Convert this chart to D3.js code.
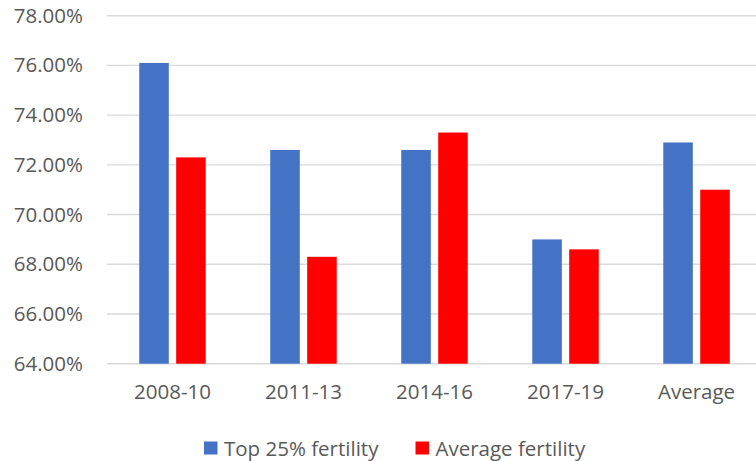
<!DOCTYPE html>
<html>
<head>
<meta charset="utf-8">
<script src="https://cdn.jsdelivr.net/npm/d3@7"></script>
<style>
  html, body { margin: 0; padding: 0; background: #fff; }
  svg { display: block; font-family: "Open Sans", sans-serif; }
</style>
</head>
<body>
<div id="chart"></div>
<script>
// --- données ---
const categories = ["2008-10", "2011-13", "2014-16", "2017-19", "Average"];
const seriesNames = ["Top 25% fertility", "Average fertility"];
const topFertility = [76.1, 72.6, 72.6, 69.0, 72.9];
const avgFertility = [72.3, 68.3, 73.3, 68.6, 71.0];
const yTicks = [64, 66, 68, 70, 72, 74, 76, 78];
const colors = ["#4472C4", "#FF0000"];

const W = 756, H = 461;
const plot = {left: 107, right: 762, top: 15.7, bottom: 363.7};
const fontSize = "20.5px";

const svg = d3.select("#chart").append("svg")
    .attr("width", W)
    .attr("height", H);

const x0 = d3.scaleBand().domain(categories).range([plot.left, plot.right]).paddingInner(0.4925).paddingOuter(0.246);
const x1 = d3.scaleBand().domain(seriesNames).range([0, x0.bandwidth()]).paddingInner(0.2);
const y = d3.scaleLinear().domain([64, 78]).range([plot.bottom, plot.top]);

// grille horizontale
svg.append("g").selectAll("line")
    .data(yTicks)
    .join("line")
    .attr("x1", plot.left).attr("x2", plot.right)
    .attr("y1", d => y(d)).attr("y2", d => y(d))
    .attr("stroke", "#d9d9d9")
    .attr("stroke-width", 1.4);

// axe Y (étiquettes seulement)
const yAxis = svg.append("g")
    .attr("transform", `translate(${plot.left}, 0)`)
    .call(d3.axisLeft(y).tickValues(yTicks).tickSize(0).tickPadding(24).tickFormat(d => d.toFixed(2) + "%"));
yAxis.select(".domain").remove();
yAxis.selectAll("text").attr("fill", "#595959").style("font-size", fontSize).style("font-family", "'Open Sans', sans-serif");

// axe X
const xAxis = svg.append("g")
    .attr("transform", `translate(0, ${plot.bottom})`)
    .call(d3.axisBottom(x0).tickSize(0).tickPadding(21));
xAxis.select(".domain").remove();
xAxis.selectAll("text").attr("fill", "#595959").style("font-size", fontSize).style("font-family", "'Open Sans', sans-serif");

// barres
const rows = categories.map((c, i) => ({cat: c, vals: [topFertility[i], avgFertility[i]]}));
const groups = svg.append("g").selectAll("g")
    .data(rows)
    .join("g")
    .attr("transform", d => `translate(${x0(d.cat)}, 0)`);

groups.selectAll("rect")
    .data(d => d.vals.map((v, j) => ({name: seriesNames[j], v: v, j: j})))
    .join("rect")
    .attr("x", d => x1(d.name))
    .attr("width", x1.bandwidth())
    .attr("y", d => y(d.v))
    .attr("height", d => y(64) - y(d.v))
    .attr("fill", d => colors[d.j]);

// légende
const legendX = [204, 415.5];
const legend = svg.append("g").selectAll("g")
    .data(seriesNames)
    .join("g")
    .attr("transform", (d, i) => `translate(${legendX[i]}, 441.5)`);
legend.append("rect")
    .attr("width", 13.5).attr("height", 13)
    .attr("fill", (d, i) => colors[i]);
legend.append("text")
    .attr("x", 20).attr("y", 14)
    .attr("fill", "#595959")
    .style("font-size", fontSize)
    .text(d => d);
</script>
</body>
</html>
